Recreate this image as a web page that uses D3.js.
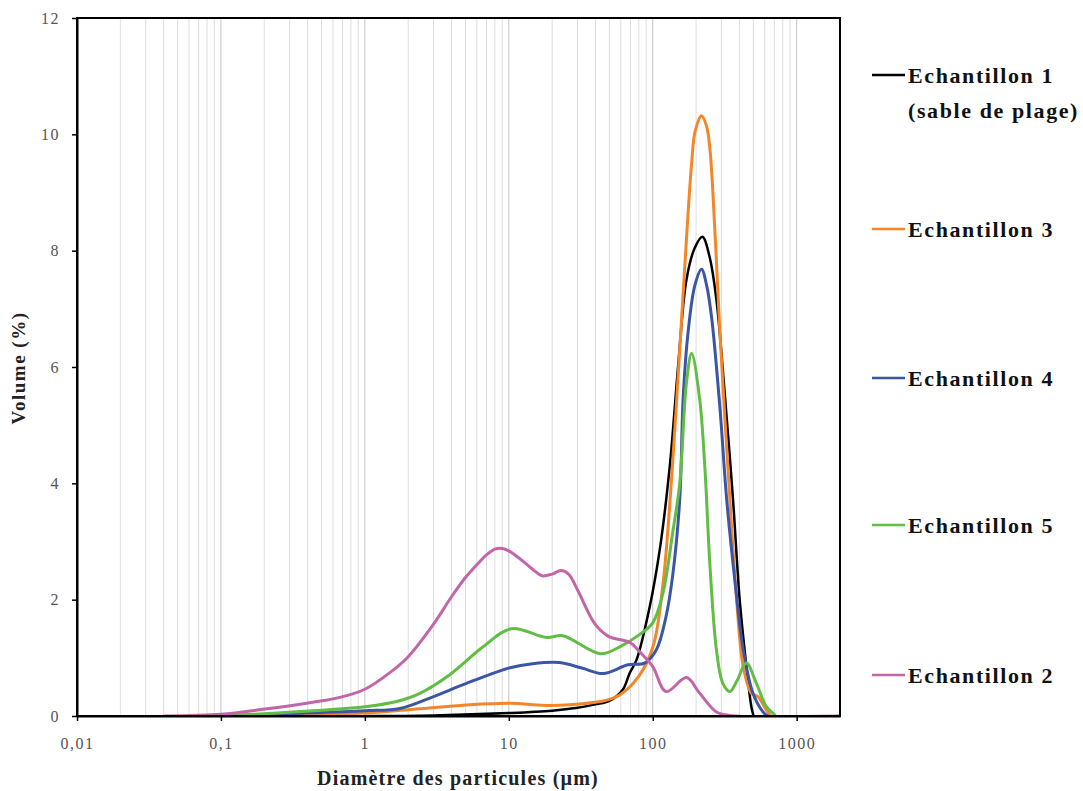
<!DOCTYPE html>
<html>
<head>
<meta charset="utf-8">
<script src="https://cdn.jsdelivr.net/npm/d3@7"></script>
<style>
  html, body { margin: 0; padding: 0; background: #fff; }
  svg { display: block; }
</style>
</head>
<body>
<svg id="chart" width="1083" height="791"></svg>
<script>
// ---- Data (diameter in µm, volume in %) ----
const s1Diam = [1, 3, 10, 20, 30, 40, 50, 61.9, 69.2, 77, 95.3, 111.9, 131.3, 149.9, 171.5, 196, 221.4, 248, 276.9, 316, 361.2, 401.8, 447.5, 484.3, 502];
const s1Vol  = [0, 0.01, 0.05, 0.09, 0.14, 0.2, 0.26, 0.45, 0.74, 0.96, 1.88, 2.86, 4.29, 6.0, 7.5, 8.05, 8.24, 7.9, 7.16, 5.56, 3.72, 2.0, 0.85, 0.16, 0];

const s3Diam = [0.3, 1, 2.29, 5.08, 10.2, 19.3, 32.6, 47.6, 59, 79.9, 100.4, 117.9, 134.5, 154, 171.5, 186.3, 197, 218.3, 236, 249.7, 270.5, 292.9, 343.6, 382.4, 425.3, 484.3, 539, 616, 660];
const s3Vol  = [0, 0.05, 0.12, 0.19, 0.22, 0.18, 0.21, 0.27, 0.36, 0.68, 1.19, 2.28, 4.0, 6.3, 8.2, 9.5, 10.05, 10.32, 10.15, 9.75, 8.32, 6.59, 3.72, 2.0, 0.85, 0.39, 0.33, 0.1, 0];

const s4Diam = [0.1, 0.3, 1, 1.75, 2.97, 5.08, 10.2, 14.6, 22.5, 32.6, 45.2, 67.3, 87.9, 106, 123.7, 138.3, 154, 162.9, 175.9, 196, 218.3, 237, 256.5, 292.9, 326.5, 373.6, 425.3, 497, 583.3, 629];
const s4Vol  = [0, 0.04, 0.09, 0.13, 0.33, 0.56, 0.83, 0.9, 0.92, 0.82, 0.73, 0.88, 0.91, 1.14, 1.71, 2.46, 3.72, 5.5, 6.59, 7.4, 7.68, 7.4, 6.85, 5.3, 3.72, 2.29, 1.14, 0.39, 0.07, 0];

const s5Diam = [0.1, 0.2, 0.5, 1, 1.66, 2.41, 3.89, 6.63, 10.4, 18.3, 23.7, 43.4, 59, 79.9, 100, 117.4, 137.6, 154, 171.5, 186.3, 212, 230, 250, 277, 307, 343.6, 384, 447.5, 525, 616, 683, 714];
const s5Vol  = [0, 0.04, 0.1, 0.16, 0.25, 0.39, 0.71, 1.19, 1.5, 1.35, 1.38, 1.07, 1.19, 1.39, 1.6, 2.1, 3.15, 4.0, 5.73, 6.23, 5.44, 4.29, 2.57, 1.14, 0.56, 0.42, 0.6, 0.91, 0.56, 0.16, 0.05, 0];

const s2Diam = [0.04, 0.1, 0.202, 0.394, 0.67, 1, 1.5, 2, 3, 4, 5, 6, 7, 8, 9, 10, 12, 15, 17, 20, 23, 26, 30, 40, 50, 60, 70, 80, 100, 123.7, 171.5, 212, 277, 343.6, 2000];
const s2Vol  = [0, 0.03, 0.12, 0.22, 0.32, 0.46, 0.75, 1.02, 1.58, 2.05, 2.38, 2.6, 2.77, 2.87, 2.88, 2.84, 2.7, 2.5, 2.41, 2.44, 2.5, 2.44, 2.17, 1.57, 1.36, 1.31, 1.26, 1.12, 0.85, 0.42, 0.66, 0.39, 0.07, 0.01, 0];

const seriesNames  = ["Echantillon 1", "Echantillon 3", "Echantillon 4", "Echantillon 5", "Echantillon 2"];
const seriesColors = ["#000000", "#f4862a", "#3b56a6", "#62bd45", "#c266a9"];
const seriesDiams  = [s1Diam, s3Diam, s4Diam, s5Diam, s2Diam];
const seriesVols   = [s1Vol, s3Vol, s4Vol, s5Vol, s2Vol];

const xTickValues = [0.01, 0.1, 1, 10, 100, 1000];
const xTickLabels = ["0,01", "0,1", "1", "10", "100", "1000"];
const yTickValues = [0, 2, 4, 6, 8, 10, 12];

(function draw() {
  const svg = d3.select("#chart");
  const pL = 77, pR = 840, pT = 18, pB = 716;
  const serif = "'Liberation Serif', 'DejaVu Serif', serif";

  const x = d3.scaleLog().domain([0.01, 2000]).range([pL, pR]);
  const y = d3.scaleLinear().domain([0, 12]).range([pB, pT]);

  svg.append("defs").append("clipPath").attr("id", "plotclip")
    .append("rect").attr("x", pL).attr("y", pT - 5)
    .attr("width", pR - pL).attr("height", pB - pT + 5);

  // gridlines (minor and major)
  const gridVals = [];
  for (let e = -2; e <= 3; e++) {
    for (let m = 1; m <= 9; m++) {
      const v = m * Math.pow(10, e);
      if (v > 0.01 && v <= 2000) gridVals.push({v, major: m === 1});
    }
  }
  svg.append("g").selectAll("line").data(gridVals).join("line")
    .attr("x1", d => x(d.v)).attr("x2", d => x(d.v))
    .attr("y1", pT).attr("y2", pB)
    .attr("stroke", d => d.major ? "#c4c4c4" : "#dedede")
    .attr("stroke-width", 1);

  // series
  const line = d3.line()
    .x(d => x(d[0])).y(d => y(d[1]))
    .curve(d3.curveCatmullRom.alpha(0.5));

  const gLines = svg.append("g").attr("clip-path", "url(#plotclip)");
  seriesNames.forEach((name, i) => {
    const pts = seriesDiams[i].map((d, j) => [d, seriesVols[i][j]]);
    gLines.append("path")
      .datum(pts)
      .attr("d", line)
      .attr("fill", "none")
      .attr("stroke", seriesColors[i])
      .attr("stroke-width", i === 0 ? 2.5 : 3)
      .attr("stroke-linejoin", "round")
      .attr("stroke-linecap", "round");
  });

  // frame
  svg.append("rect")
    .attr("x", pL).attr("y", pT)
    .attr("width", pR - pL).attr("height", pB - pT)
    .attr("fill", "none").attr("stroke", "#000").attr("stroke-width", 2);

  // axes
  const xAxis = d3.axisBottom(x)
    .tickValues(xTickValues)
    .tickFormat((d, i) => xTickLabels[i])
    .tickSize(5).tickSizeOuter(0).tickPadding(17);
  const gx = svg.append("g").attr("transform", `translate(0,${pB})`).call(xAxis);
  gx.select(".domain").attr("stroke", "#000").attr("stroke-width", 2);
  gx.selectAll(".tick line").attr("stroke", "#000").attr("stroke-width", 1.5);
  gx.selectAll(".tick text")
    .attr("font-family", serif).attr("font-size", 16).attr("letter-spacing", 1.5).attr("fill", "#555");

  const yAxis = d3.axisLeft(y)
    .tickValues(yTickValues)
    .tickSize(5).tickSizeOuter(0).tickPadding(12);
  const gy = svg.append("g").attr("transform", `translate(${pL},0)`).call(yAxis);
  gy.select(".domain").attr("stroke", "#000").attr("stroke-width", 2);
  gy.selectAll(".tick line").attr("stroke", "#000").attr("stroke-width", 1.5);
  gy.selectAll(".tick text")
    .attr("font-family", serif).attr("font-size", 16).attr("letter-spacing", 1.5).attr("fill", "#555");

  // axis titles
  svg.append("text")
    .attr("x", 458).attr("y", 785)
    .attr("text-anchor", "middle")
    .attr("font-family", serif).attr("font-weight", "bold").attr("font-size", 20)
    .attr("letter-spacing", 1.2)
    .attr("fill", "#222")
    .text("Diamètre des particules (µm)");

  svg.append("text")
    .attr("transform", "translate(25,368) rotate(-90)")
    .attr("text-anchor", "middle")
    .attr("font-family", serif).attr("font-weight", "bold").attr("font-size", 19)
    .attr("letter-spacing", 1.5)
    .attr("fill", "#222")
    .text("Volume (%)");

  // legend
  const legendY = [75, 229, 378, 525, 675];
  const lg = svg.append("g");
  seriesNames.forEach((name, i) => {
    const yy = legendY[i];
    lg.append("line")
      .attr("x1", 872).attr("x2", 905).attr("y1", yy).attr("y2", yy)
      .attr("stroke", seriesColors[i]).attr("stroke-width", 2.5);
    lg.append("text")
      .attr("x", 908).attr("y", yy + 8)
      .attr("font-family", serif).attr("font-weight", "bold").attr("font-size", 22)
      .attr("letter-spacing", 1.6)
      .attr("fill", "#111")
      .text(name);
  });
  lg.append("text")
    .attr("x", 908).attr("y", 118)
    .attr("font-family", serif).attr("font-weight", "bold").attr("font-size", 22)
    .attr("letter-spacing", 1.6)
    .attr("fill", "#111")
    .text("(sable de plage)");
})();
</script>
</body>
</html>
